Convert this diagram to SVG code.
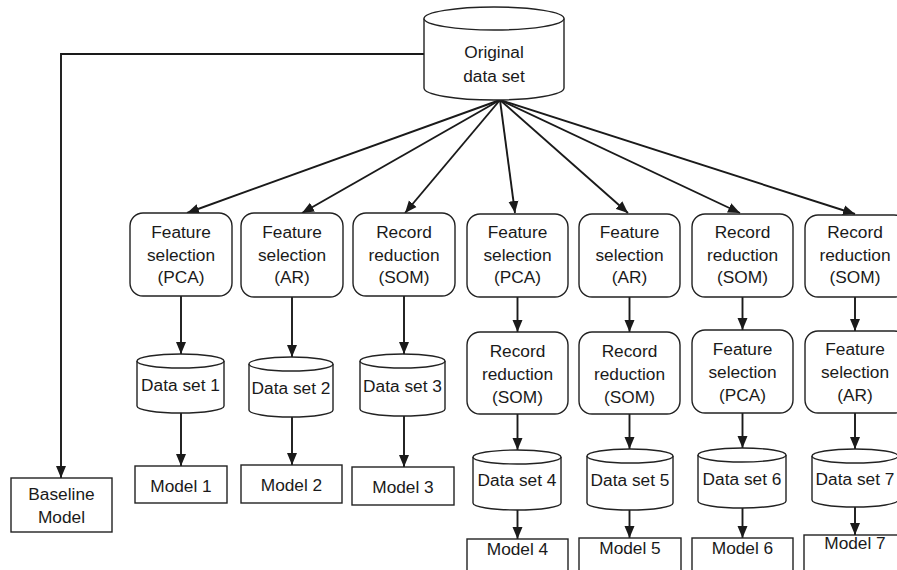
<svg xmlns="http://www.w3.org/2000/svg" width="897" height="570" viewBox="0 0 897 570">
<style>
.s{fill:#fff;stroke:#222;stroke-width:1.4}
.t{font-family:"Liberation Sans",Arial,sans-serif;font-size:17.3px;fill:#1a1a1a;text-anchor:middle}
.c{fill:none;stroke:#1a1a1a;stroke-width:1.9}
.a{marker-end:url(#ah)}
</style>
<defs>
<marker id="ah" markerUnits="userSpaceOnUse" markerWidth="13" markerHeight="11" refX="12" refY="5.5" orient="auto">
<path d="M0,0.5 L12,5.5 L0,10.5 z" fill="#1a1a1a"/>
</marker>
</defs>
<rect width="897" height="570" fill="#fff"/>
<g id="connectors">
<polyline class="c a" points="424,54 61,54 61,478"/>
<line class="c a" x1="500" y1="100" x2="187" y2="213"/>
<line class="c a" x1="500" y1="100" x2="302" y2="213"/>
<line class="c a" x1="500" y1="100" x2="405" y2="213"/>
<line class="c a" x1="500" y1="100" x2="515" y2="213"/>
<line class="c a" x1="500" y1="100" x2="628" y2="213"/>
<line class="c a" x1="500" y1="100" x2="740" y2="213"/>
<line class="c a" x1="500" y1="100" x2="855" y2="214"/>
<line class="c a" x1="181" y1="296" x2="181" y2="354"/>
<line class="c a" x1="292" y1="297" x2="292" y2="357"/>
<line class="c a" x1="404" y1="296" x2="404" y2="354"/>
<line class="c a" x1="181" y1="413" x2="181" y2="466"/>
<line class="c a" x1="292" y1="417" x2="292" y2="465"/>
<line class="c a" x1="404" y1="416" x2="404" y2="467"/>
<line class="c a" x1="517.5" y1="297" x2="517.5" y2="332"/>
<line class="c a" x1="629.5" y1="297" x2="629.5" y2="332"/>
<line class="c a" x1="742.5" y1="297" x2="742.5" y2="330"/>
<line class="c a" x1="855" y1="297" x2="855" y2="331"/>
<line class="c a" x1="517.5" y1="414" x2="517.5" y2="450"/>
<line class="c a" x1="629.5" y1="414" x2="629.5" y2="449"/>
<line class="c a" x1="742.5" y1="413" x2="742.5" y2="448"/>
<line class="c a" x1="855" y1="413" x2="855" y2="449"/>
<line class="c a" x1="517.5" y1="510" x2="517.5" y2="539"/>
<line class="c a" x1="629.5" y1="510" x2="629.5" y2="538"/>
<line class="c a" x1="742.5" y1="508" x2="742.5" y2="538"/>
<line class="c a" x1="855" y1="507" x2="855" y2="535"/>
</g>
<g id="original">
<path class="s" d="M424,18.5 L424,88 A70,12 0 0 0 564,88 L564,18.5"/>
<ellipse class="s" cx="494" cy="18.5" rx="70" ry="11.5"/>
<text class="t" x="494" y="58">Original</text>
<text class="t" x="494" y="82">data set</text>
</g>
<g id="baseline">
<rect class="s" x="11" y="478" width="101" height="54"/>
<text class="t" x="61.5" y="500">Baseline</text>
<text class="t" x="61.5" y="523">Model</text>
</g>
<g id="fs-pca-1">
<rect class="s" x="130" y="213" width="102" height="83" rx="13"/>
<text class="t" x="181" y="238">Feature</text>
<text class="t" x="181" y="260.5">selection</text>
<text class="t" x="181" y="283">(PCA)</text>
</g>
<g id="fs-ar-2">
<rect class="s" x="241" y="213" width="102" height="84" rx="13"/>
<text class="t" x="292" y="238">Feature</text>
<text class="t" x="292" y="260.5">selection</text>
<text class="t" x="292" y="283">(AR)</text>
</g>
<g id="rr-som-3">
<rect class="s" x="353" y="213" width="102" height="83" rx="13"/>
<text class="t" x="404" y="238">Record</text>
<text class="t" x="404" y="260.5">reduction</text>
<text class="t" x="404" y="283">(SOM)</text>
</g>
<g id="fs-pca-4">
<rect class="s" x="467" y="214" width="101" height="83" rx="13"/>
<text class="t" x="517.5" y="238">Feature</text>
<text class="t" x="517.5" y="260.5">selection</text>
<text class="t" x="517.5" y="283">(PCA)</text>
</g>
<g id="fs-ar-5">
<rect class="s" x="579" y="214" width="101" height="83" rx="13"/>
<text class="t" x="629.5" y="238">Feature</text>
<text class="t" x="629.5" y="260.5">selection</text>
<text class="t" x="629.5" y="283">(AR)</text>
</g>
<g id="rr-som-6">
<rect class="s" x="692" y="214" width="101" height="83" rx="13"/>
<text class="t" x="742.5" y="238">Record</text>
<text class="t" x="742.5" y="260.5">reduction</text>
<text class="t" x="742.5" y="283">(SOM)</text>
</g>
<g id="rr-som-7">
<rect class="s" x="805" y="215" width="102" height="82" rx="13"/>
<text class="t" x="855" y="238">Record</text>
<text class="t" x="855" y="260.5">reduction</text>
<text class="t" x="855" y="283">(SOM)</text>
</g>
<g id="rr-som-4b">
<rect class="s" x="467" y="332" width="101" height="82" rx="13"/>
<text class="t" x="517.5" y="357">Record</text>
<text class="t" x="517.5" y="380">reduction</text>
<text class="t" x="517.5" y="403">(SOM)</text>
</g>
<g id="rr-som-5b">
<rect class="s" x="579" y="332" width="101" height="82" rx="13"/>
<text class="t" x="629.5" y="357">Record</text>
<text class="t" x="629.5" y="380">reduction</text>
<text class="t" x="629.5" y="403">(SOM)</text>
</g>
<g id="fs-pca-6b">
<rect class="s" x="692" y="330" width="101" height="83" rx="13"/>
<text class="t" x="742.5" y="355">Feature</text>
<text class="t" x="742.5" y="378">selection</text>
<text class="t" x="742.5" y="401">(PCA)</text>
</g>
<g id="fs-ar-7b">
<rect class="s" x="805" y="331" width="102" height="82" rx="13"/>
<text class="t" x="855" y="355">Feature</text>
<text class="t" x="855" y="378">selection</text>
<text class="t" x="855" y="401">(AR)</text>
</g>
<g id="ds1">
<path class="s" d="M137,361 L137,406 A43.5,7 0 0 0 224,406 L224,361"/>
<ellipse class="s" cx="180.5" cy="361" rx="43.5" ry="7"/>
<text class="t" x="180.5" y="391">Data set 1</text>
</g>
<g id="ds2">
<path class="s" d="M249,364 L249,410 A42,7 0 0 0 333,410 L333,364"/>
<ellipse class="s" cx="291" cy="364" rx="42" ry="7"/>
<text class="t" x="291" y="394">Data set 2</text>
</g>
<g id="ds3">
<path class="s" d="M360,361 L360,409 A42.5,7 0 0 0 445,409 L445,361"/>
<ellipse class="s" cx="402.5" cy="361" rx="42.5" ry="7"/>
<text class="t" x="402.5" y="392">Data set 3</text>
</g>
<g id="ds4">
<path class="s" d="M473,457 L473,503 A44,7 0 0 0 561,503 L561,457"/>
<ellipse class="s" cx="517" cy="457" rx="44" ry="7"/>
<text class="t" x="517" y="486">Data set 4</text>
</g>
<g id="ds5">
<path class="s" d="M587,456 L587,503 A43,7 0 0 0 673,503 L673,456"/>
<ellipse class="s" cx="630" cy="456" rx="43" ry="7"/>
<text class="t" x="630" y="486">Data set 5</text>
</g>
<g id="ds6">
<path class="s" d="M698,455 L698,501 A44,7 0 0 0 786,501 L786,455"/>
<ellipse class="s" cx="742" cy="455" rx="44" ry="7"/>
<text class="t" x="742" y="485">Data set 6</text>
</g>
<g id="ds7">
<path class="s" d="M812,456 L812,500 A43,7 0 0 0 898,500 L898,456"/>
<ellipse class="s" cx="855" cy="456" rx="43" ry="7"/>
<text class="t" x="855" y="485">Data set 7</text>
</g>
<g id="m1">
<rect class="s" x="135" y="466" width="92" height="37"/>
<text class="t" x="181" y="492">Model 1</text>
</g>
<g id="m2">
<rect class="s" x="241" y="465" width="101" height="38"/>
<text class="t" x="291.5" y="491">Model 2</text>
</g>
<g id="m3">
<rect class="s" x="352" y="467" width="102" height="38"/>
<text class="t" x="403" y="493">Model 3</text>
</g>
<g id="m4">
<rect class="s" x="467" y="539" width="101" height="40"/>
<text class="t" x="517.5" y="555">Model 4</text>
</g>
<g id="m5">
<rect class="s" x="579" y="538" width="102" height="40"/>
<text class="t" x="630" y="554">Model 5</text>
</g>
<g id="m6">
<rect class="s" x="692" y="538" width="101" height="40"/>
<text class="t" x="742.5" y="554">Model 6</text>
</g>
<g id="m7">
<rect class="s" x="804" y="535" width="102" height="40"/>
<text class="t" x="855" y="549">Model 7</text>
</g>
</svg>
